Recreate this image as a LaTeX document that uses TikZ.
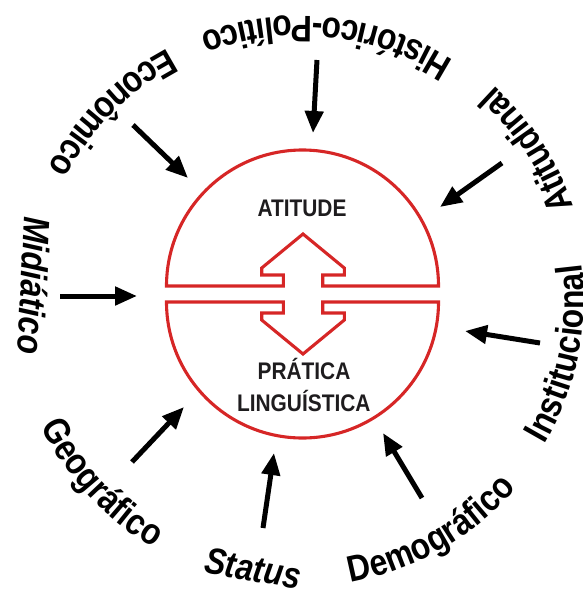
\documentclass[tikz,border=0pt]{standalone}
\usepackage{fontspec}
\setmainfont{Liberation Sans}
\newfontfamily\lblfont[FakeStretch=0.86]{Liberation Sans}
\newfontfamily\inrfont[FakeStretch=0.87]{Liberation Sans}
\usetikzlibrary{arrows.meta,decorations.text,calc}
\definecolor{ringred}{RGB}{214,38,38}
\definecolor{inkdark}{RGB}{30,28,30}
\tikzset{
  ring/.style={draw=ringred, line width=3.1pt},
  pusharrow/.style={draw=black, line width=5pt, -{Triangle[length=22pt,width=18pt]}},
  innertext/.style={text=inkdark, font=\inrfont\bfseries\fontsize{24}{28}\selectfont, inner sep=0pt, anchor=base},
  flatlabel/.style={font=\lblfont\bfseries\itshape\fontsize{37}{40}\selectfont, inner sep=0pt, anchor=base},
  arclabel/.style={decorate, decoration={text along path, text align=center,
      text={|\lblfont\bfseries\fontsize{37}{40}\selectfont|#1}}}
}
\begin{document}
\begin{tikzpicture}[x=1pt,y=1pt]
\useasboundingbox (0,0) rectangle (582,-590);
\coordinate (C) at (300,-300);

% red split circle with double arrow
\draw[ring] (166.5,-286) arc[start angle=180, end angle=0, radius=136pt]
  -- (322.7,-286) -- (322.7,-275) -- (344.3,-275) -- (344.3,-268) -- (303,-234)
  -- (261.7,-268) -- (261.7,-275) -- (283.3,-275) -- (283.3,-286) -- cycle;
\draw[ring] (166.5,-302) arc[start angle=180, end angle=360, radius=136pt]
  -- (322.7,-302) -- (322.7,-313) -- (344.3,-313) -- (344.3,-320) -- (303,-354)
  -- (261.7,-320) -- (261.7,-313) -- (283.3,-313) -- (283.3,-302) -- cycle;

\node[innertext] (att) at (302,-216.7) {ATITUDE};
\node[innertext] (prat) at (304,-379) {PRÁTICA};
\node[innertext] (ling) at (303.8,-411.7) {LINGUÍSTICA};

% curved labels
\path[arclabel={Histórico-Político}] ($(C)+(39:284pt)$) arc[start angle=39, end angle=129, radius=284pt];
\path[arclabel={Econômico}] ($(C)+(90:284pt)$) arc[start angle=90, end angle=180, radius=284pt];
\path[arclabel={Atitudinal}] ($(C)+(-11.7:289pt)$) arc[start angle=-11.7, end angle=78.3, radius=289pt];
\path[arclabel={Geográfico}] ($(C)+(177.7:288pt)$) arc[start angle=177.7, end angle=267.7, radius=288pt];
\path[arclabel={Demográfico}] ($(C)+(254.6:287pt)$) arc[start angle=254.6, end angle=344.6, radius=287pt];
\path[arclabel={Institucional}] ($(C)+(303.4:284pt)$) arc[start angle=303.4, end angle=393.4, radius=284pt];

\node[flatlabel, rotate=-93] (midi) at (21,-285) {Midiático};
\node[flatlabel, rotate=-9.6] (stat) at (251,-581) {Status};

% arrows
\coordinate (histA) at (317,-60);  \coordinate (histB) at (313,-133);
\coordinate (econA) at (133,-125); \coordinate (econB) at (188,-178);
\coordinate (atitA) at (502,-163); \coordinate (atitB) at (440,-207);
\coordinate (midiA) at (60,-296);  \coordinate (midiB) at (137,-296);
\coordinate (instA) at (540,-343); \coordinate (instB) at (465,-331);
\coordinate (geoA) at (132,-462);  \coordinate (geoB) at (184,-407);
\coordinate (statA) at (263,-528); \coordinate (statB) at (274,-453);
\coordinate (demoA) at (422,-498); \coordinate (demoB) at (383,-433);
\foreach \n in {hist,econ,atit,midi,inst,geo,stat,demo}
  \draw[pusharrow] (\n A) -- (\n B);
\end{tikzpicture}
\end{document}
